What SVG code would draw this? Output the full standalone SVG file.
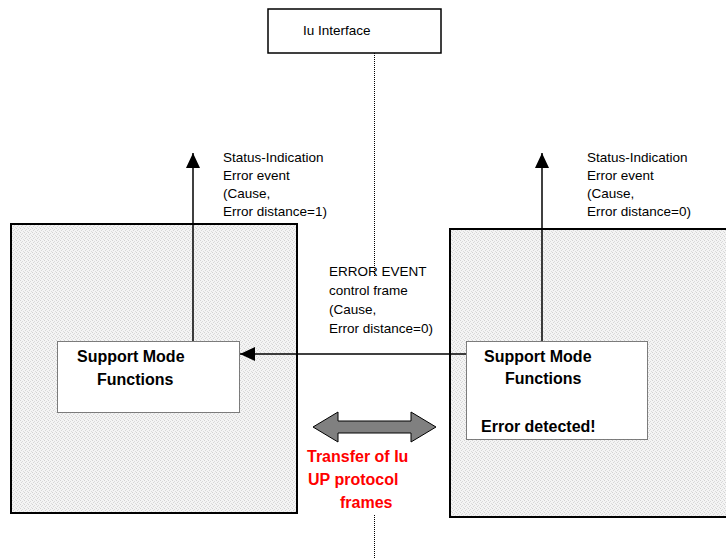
<svg xmlns="http://www.w3.org/2000/svg" width="726" height="559" viewBox="0 0 726 559">
<defs>
<pattern id="dots" width="4" height="4" patternUnits="userSpaceOnUse">
<rect width="4" height="4" fill="#f4f4f4"/>
<rect x="0" y="0" width="1" height="1" fill="#d2d2d2"/>
<rect x="2" y="1" width="1" height="1" fill="#dadada"/>
<rect x="1" y="2" width="1" height="1" fill="#d6d6d6"/>
<rect x="3" y="3" width="1" height="1" fill="#dcdcdc"/>
</pattern>
<marker id="ah" markerWidth="16" markerHeight="14" refX="15" refY="7" orient="auto" markerUnits="userSpaceOnUse">
<path d="M0,0 L15,7 L0,14 Z" fill="#000"/>
</marker>
</defs>
<style>
.big{fill:url(#dots);stroke:#000;stroke-width:2}
.inner{fill:#fff;stroke:#000;stroke-width:1;stroke-dasharray:1 1}
.t{font-family:"Liberation Sans",Arial,sans-serif;font-size:13.5px;fill:#000}
.b{font-family:"Liberation Sans",Arial,sans-serif;font-size:16px;font-weight:bold;fill:#000}
.r{font-family:"Liberation Sans",Arial,sans-serif;font-size:16px;font-weight:bold;fill:#ff0000}
.ln{stroke:#000;stroke-width:1.5;fill:none}
.dot{stroke:#000;stroke-width:1;stroke-dasharray:1 1;fill:none}
</style>
<rect width="726" height="559" fill="#fff"/>
<g id="iu-interface">
<rect x="268" y="9" width="173" height="44" fill="#fff" stroke="#000" stroke-width="1.5"/>
<text class="t" x="303" y="35" font-size="15">Iu Interface</text>
</g>
<g id="iu-line">
<line class="dot" x1="374.5" y1="53" x2="374.5" y2="276"/>
<line class="dot" x1="374.5" y1="515" x2="374.5" y2="559"/>
</g>
<g id="left-entity">
<rect class="big" x="11" y="224" width="286" height="289"/>
</g>
<g id="right-entity">
<rect class="big" x="450" y="229" width="280" height="288"/>
</g>
<g id="left-smf">
<rect class="inner" x="57.5" y="341.5" width="182" height="71"/>
<text class="b" x="77" y="362">Support Mode</text>
<text class="b" x="97" y="385">Functions</text>
</g>
<g id="right-smf">
<rect class="inner" x="466.5" y="341.5" width="181" height="98"/>
<text class="b" x="484" y="362">Support Mode</text>
<text class="b" x="505" y="384">Functions</text>
<text class="b" x="481" y="432">Error detected!</text>
</g>
<g id="connectors">
<line class="ln" x1="193" y1="341" x2="193" y2="153" marker-end="url(#ah)"/>
<line class="ln" x1="542" y1="341" x2="542" y2="153" marker-end="url(#ah)"/>
<line class="ln" x1="466" y1="354" x2="240" y2="354" marker-end="url(#ah)"/>
<path d="M313,427 L338,412 L338,421 L411,421 L411,412 L436,427 L411,442 L411,433 L338,433 L338,442 Z" fill="#808080" stroke="#000" stroke-width="1"/>
</g>
<g id="labels">
<text class="t" x="223" y="162">Status-Indication</text>
<text class="t" x="223" y="180">Error event</text>
<text class="t" x="223" y="198">(Cause,</text>
<text class="t" x="223" y="216">Error distance=1)</text>
<text class="t" x="587" y="162">Status-Indication</text>
<text class="t" x="587" y="180">Error event</text>
<text class="t" x="587" y="198">(Cause,</text>
<text class="t" x="587" y="216">Error distance=0)</text>
<text class="t" x="329" y="276">ERROR EVENT</text>
<text class="t" x="329" y="295">control frame</text>
<text class="t" x="329" y="314">(Cause,</text>
<text class="t" x="329" y="333">Error distance=0)</text>
<text class="r" x="307" y="462">Transfer of Iu</text>
<text class="r" x="308" y="485">UP protocol</text>
<text class="r" x="340" y="508">frames</text>
</g>
</svg>
